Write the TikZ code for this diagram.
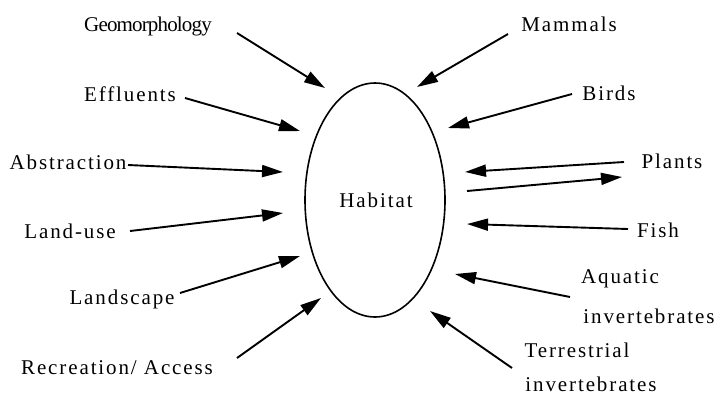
\documentclass[tikz,border=0pt]{standalone}
\usepackage{fontspec}
\setmainfont{Liberation Serif}[LetterSpace=9]
\newfontfamily\tightfont{Liberation Serif}[LetterSpace=-4]
\usetikzlibrary{arrows.meta,shapes.geometric}
\tikzset{
  lbl/.style={font=\fontsize{21}{23}\selectfont, inner sep=0pt, anchor=center},
  arr/.style={line width=1.9pt, -{Triangle[length=21pt,width=12pt]}},
  hab/.style={draw, line width=1.6pt, ellipse, minimum width=140pt, minimum height=234pt}
}
\begin{document}
\begin{tikzpicture}[x=1pt,y=-1pt]
\useasboundingbox (0,0) rectangle (719,397);
\node[hab] (habitat) at (375,200) {};
\node[lbl] (habtext) at (376,200) {Habitat};
% left labels
\node[lbl,font=\fontsize{21}{23}\tightfont] (geo) at (148,26) {Geomorphology};
\node[lbl] (eff) at (130,94) {Effluents};
\node[lbl] (abs) at (68,162) {Abstraction};
\node[lbl] (land) at (70,231) {Land-use};
\node[lbl] (lscape) at (122,299) {Landscape};
\node[lbl] (rec) at (117,368) {Recreation/ Access};
% right labels
\node[lbl] (mam) at (569,24) {Mammals};
\node[lbl] (bird) at (609,93) {Birds};
\node[lbl] (plant) at (672,161) {Plants};
\node[lbl] (fish) at (658,230) {Fish};
\node[lbl] (aq1) at (620,279) {Aquatic};
\node[lbl] (aq2) at (649,316) {invertebrates};
\node[lbl] (te1) at (577,350) {Terrestrial};
\node[lbl] (te2) at (591,384) {invertebrates};
% arrow end points
\coordinate (geoS) at (237,33);  \coordinate (geoE) at (325,88);
\coordinate (effS) at (185,98);  \coordinate (effE) at (300,131);
\coordinate (absS) at (128,165); \coordinate (absE) at (283,172);
\coordinate (landS) at (130,231); \coordinate (landE) at (283,213);
\coordinate (lsS) at (180,293);  \coordinate (lsE) at (300,256);
\coordinate (recS) at (237,358); \coordinate (recE) at (321,298);
\coordinate (mamS) at (508,34);  \coordinate (mamE) at (417,87);
\coordinate (birdS) at (572,94); \coordinate (birdE) at (448,128);
\coordinate (plS) at (624,162);  \coordinate (plE) at (465,172);
\coordinate (pl2S) at (467,191); \coordinate (pl2E) at (622,177);
\coordinate (fishS) at (628,229); \coordinate (fishE) at (467,224);
\coordinate (aqS) at (570,297);  \coordinate (aqE) at (455,274);
\coordinate (teS) at (512,368);  \coordinate (teE) at (430,311);
\draw[arr] (geoS) -- (geoE);
\draw[arr] (effS) -- (effE);
\draw[arr] (absS) -- (absE);
\draw[arr] (landS) -- (landE);
\draw[arr] (lsS) -- (lsE);
\draw[arr] (recS) -- (recE);
\draw[arr] (mamS) -- (mamE);
\draw[arr] (birdS) -- (birdE);
\draw[arr] (plS) -- (plE);
\draw[arr] (pl2S) -- (pl2E);
\draw[arr] (fishS) -- (fishE);
\draw[arr] (aqS) -- (aqE);
\draw[arr] (teS) -- (teE);
\end{tikzpicture}
\end{document}
